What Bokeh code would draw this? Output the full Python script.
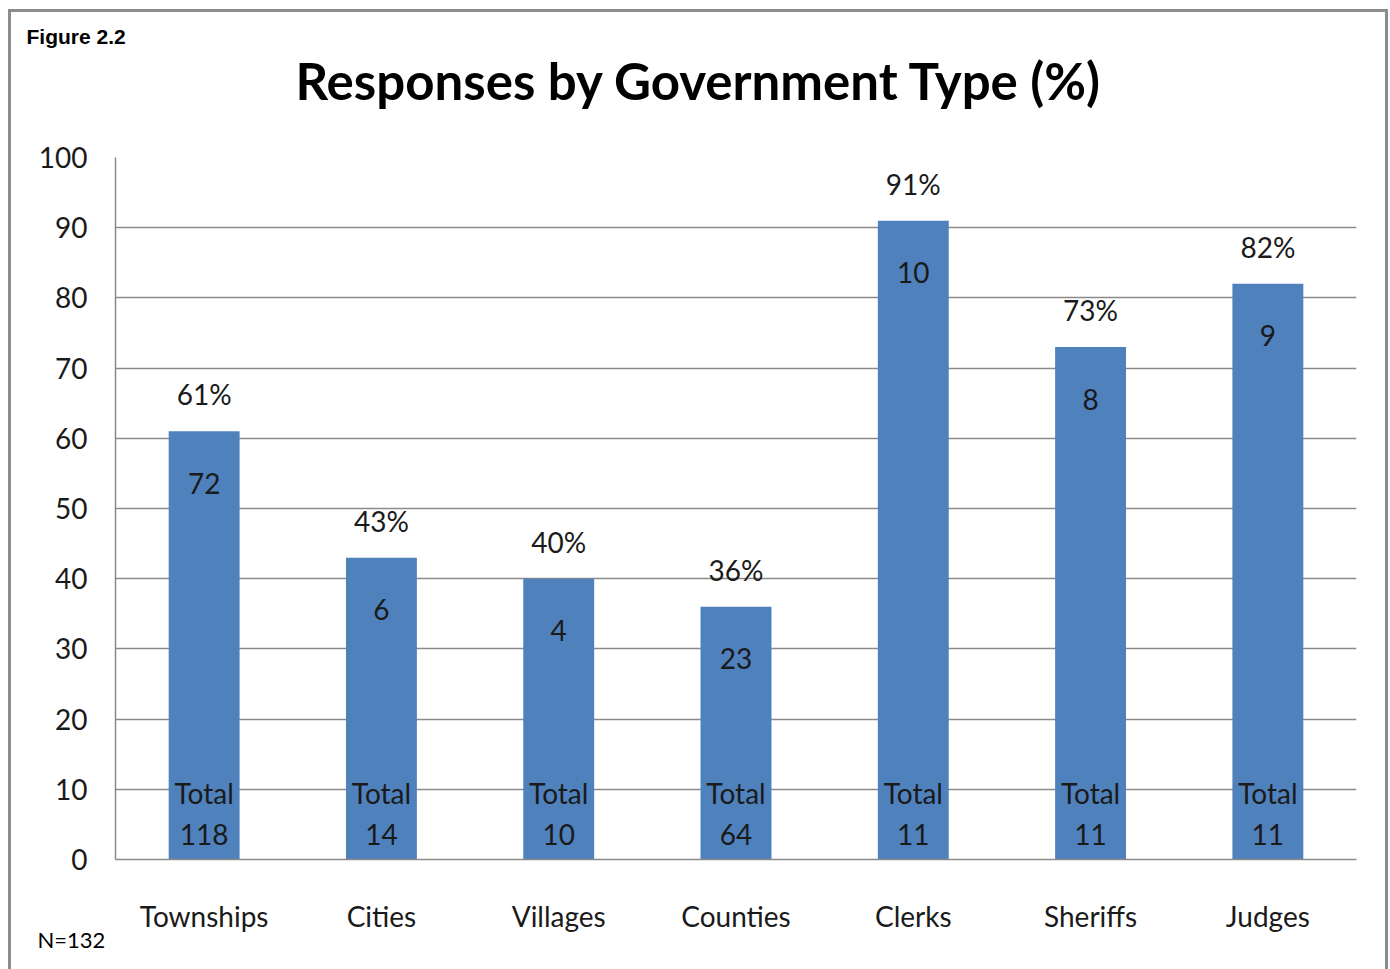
from bokeh.plotting import figure
from bokeh.models import ColumnDataSource, Title, FactorRange, InlineStyleSheet
from bokeh.core.properties import value
from bokeh.embed import file_html
from bokeh.resources import INLINE

categories = ["Townships", "Cities", "Villages", "Counties", "Clerks", "Sheriffs", "Judges"]
percent = [61, 43, 40, 36, 91, 73, 82]
responses = [72, 6, 4, 23, 10, 8, 9]
totals = [118, 14, 10, 64, 11, 11, 11]
y_ticks = [0, 10, 20, 30, 40, 50, 60, 70, 80, 90, 100]

FONT = "Lato"
BAR = "#4F81BD"
GRID = "#8a8a8a"

W, H = 1390, 969
ML, MR, MT, MB = 115, 34, 157, 110

src = ColumnDataSource(dict(
    cat=categories,
    pct=percent,
    pct_txt=[f"{v}%" for v in percent],
    resp_txt=[str(v) for v in responses],
    tot_txt=[str(v) for v in totals],
    total_word=["Total"] * len(categories),
    zero=[0] * len(categories),
))

p = figure(width=W, height=H, x_range=FactorRange(*categories, range_padding=0),
           y_range=(0, 100), output_backend="svg", toolbar_location=None,
           title_location=None,
           min_border_left=ML, min_border_right=MR, min_border_top=MT, min_border_bottom=MB)
p.background_fill_color = "white"
p.border_fill_color = "white"
p.outline_line_color = None

main_title = Title(text="Responses by Government Type (%)", align="left", offset=180,
                   text_font=FONT, text_font_style="bold", text_font_size="51px",
                   text_color="black", standoff=93)
fig_label = Title(text="Figure 2.2", align="left", offset=-89, text_font="Liberation Sans",
                  text_font_style="bold", text_font_size="21px", text_color="black",
                  standoff=-93)
p.add_layout(main_title, "above")
p.add_layout(fig_label, "above")
p.add_layout(Title(text="N=132", align="left", offset=-78, text_font=FONT,
                   text_font_style="normal", text_font_size="22px", text_color="black",
                   standoff=-24), "below")

p.vbar(x="cat", top="pct", width=0.4, source=src, fill_color=BAR, line_color=None)

common = dict(source=src, text_font=value(FONT), text_font_size="28px", text_color="#1a1a1a",
              text_align="center", text_baseline="middle")
p.text(x="cat", y="pct", text="pct_txt", y_offset=-37, **common)
p.text(x="cat", y="pct", text="resp_txt", y_offset=52, **common)
p.text(x="cat", y="zero", text="total_word", y_offset=-67, **common)
p.text(x="cat", y="zero", text="tot_txt", y_offset=-25, **common)

p.yaxis.ticker = y_ticks
p.ygrid.ticker = y_ticks
p.xgrid.grid_line_color = None
p.ygrid.grid_line_color = GRID
p.ygrid.grid_line_width = 1.5
p.ygrid.level = "underlay"

for ax in (p.xaxis, p.yaxis):
    ax.axis_line_color = GRID
    ax.axis_line_width = 1.5
    ax.major_tick_line_color = None
    ax.minor_tick_line_color = None
    ax.major_label_text_font = FONT
    ax.major_label_text_font_size = "28px"
    ax.major_label_text_color = "#1a1a1a"
p.yaxis.major_label_standoff = 22
p.xaxis.major_label_standoff = 33

p.stylesheets = [InlineStyleSheet(css="""
:host::after {
  content: "";
  position: absolute;
  left: 8px; top: 9px; right: 2px; bottom: -20px;
  border: 3px solid #8c8c8c;
  border-bottom: none;
  pointer-events: none;
  z-index: 100;
}
""")]

open("out.html", "w").write(file_html(p, INLINE))
